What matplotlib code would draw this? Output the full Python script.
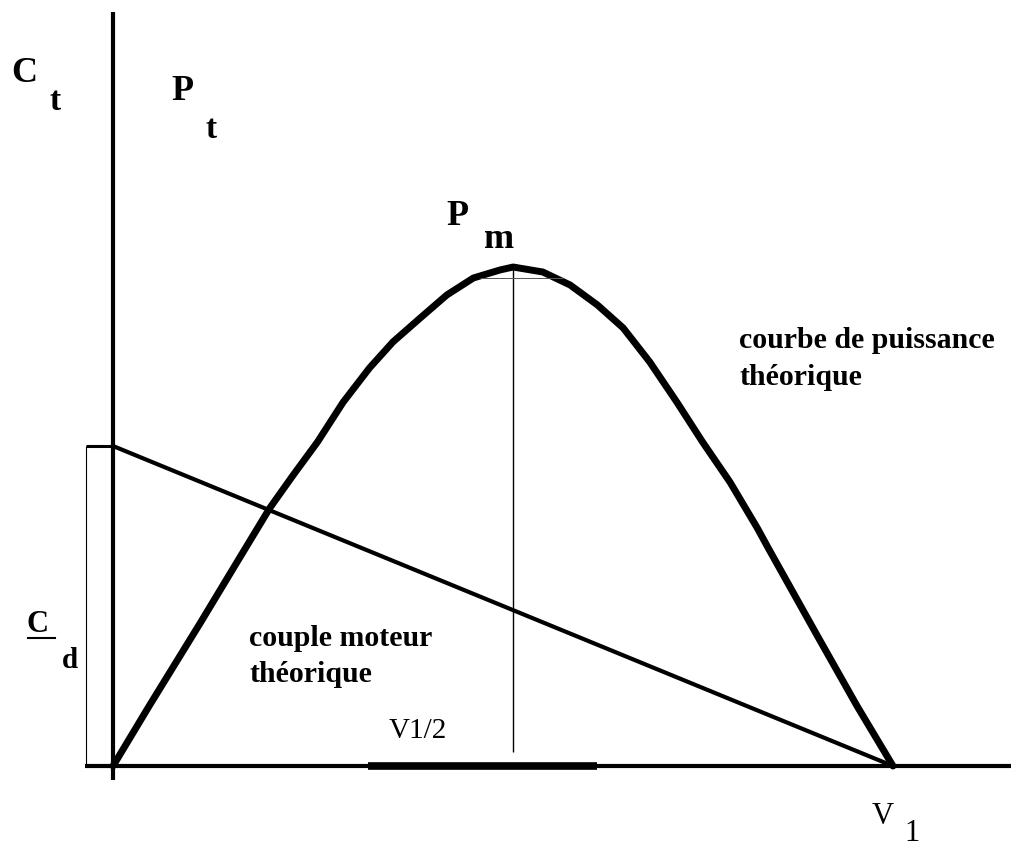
import matplotlib.pyplot as plt

# courbes theoriques d'une eolienne : puissance et couple en fonction de la vitesse
# vitesse relative V / V1
speed = [0.0, 0.047, 0.112, 0.163, 0.201, 0.231, 0.262, 0.295, 0.329, 0.359, 0.394,
         0.428, 0.462, 0.496, 0.513, 0.551, 0.586, 0.621, 0.654, 0.688, 0.723, 0.756,
         0.791, 0.826, 0.840, 0.903, 0.954, 1.0]
# puissance relative P / Pm
power = [0.0, 0.122, 0.287, 0.419, 0.517, 0.583, 0.649, 0.729, 0.798, 0.850, 0.898,
         0.944, 0.978, 0.994, 1.0, 0.990, 0.964, 0.924, 0.878, 0.810, 0.729, 0.649,
         0.569, 0.477, 0.437, 0.261, 0.120, 0.0]
# couple moteur relatif C / Cd (droite)
torque_speed = [0.0, 1.0]
torque = [1.0, 0.0]

W, H = 1011, 851
fig = plt.figure(figsize=(W / 100, H / 100), dpi=100)
fig.patch.set_facecolor('white')

ax = fig.add_axes([0, 0, 1, 1])
ax.set_xlim(-0.1449, 1.1513)
ax.set_ylim(-0.2656, 2.3938)
ax.axis('off')

ax2 = ax.twinx()
ax2.set_ylim(-0.1703, 1.5351)
ax2.axis('off')

# axes dessines a la main
ax.axvline(0, ymin=1 - 780 / H, ymax=1 - 12 / H, color='black', lw=3, solid_capstyle='butt')
ax.axhline(0, xmin=85 / W, xmax=1, color='black', lw=3, solid_capstyle='butt')
ax.hlines(0, 0.327, 0.6205, color='black', lw=5.5)

# crochet Cd
ax.plot([-0.0346, 0], [1, 1], color='black', lw=2.2, solid_capstyle='butt')
ax.vlines(-0.0346, 0, 1, color='black', lw=0.8)

# couple et puissance
ax.plot(torque_speed, torque, color='black', lw=3, solid_capstyle='round')
ax2.plot(speed, power, color='black', lw=5, solid_joinstyle='round', solid_capstyle='round')

# vertical du maximum de puissance
i_max = power.index(max(power))
ax2.vlines(speed[i_max], 0.028, power[i_max], color='black', lw=1)
ax2.hlines(0.978, speed[i_max] - 0.042, speed[i_max] + 0.064, color='#555555', lw=0.7)


def txt(x, y, s, size, bold=True, **kw):
    fig.text(x / W, 1 - y / H, s, fontsize=size, family='Liberation Serif',
             weight='bold' if bold else 'normal', va='baseline', ha='left', **kw)


txt(11, 82, 'C', 26)
txt(49, 110, 't', 24)
txt(171, 100, 'P', 26)
txt(206, 138, 't', 24)
txt(446, 225, 'P', 26)
txt(484, 248, 'm', 26)
txt(739, 348, 'courbe de puissance', 21.5)
txt(739, 385, 'théorique', 21.5)
txt(249, 646, 'couple moteur', 21.5)
txt(249, 682, 'théorique', 21.5)
txt(389, 738, 'V1/2', 21, bold=False)
txt(27, 632, 'C', 22)
fig.add_artist(plt.Line2D([28 / W, 55 / W], [1 - 638 / H, 1 - 638 / H], color='black', lw=1.5))
txt(62, 668, 'd', 21)
txt(872, 824, 'V', 22, bold=False)
txt(904, 841, '1', 22, bold=False)

fig.savefig('out.png', dpi=100, facecolor='white')
